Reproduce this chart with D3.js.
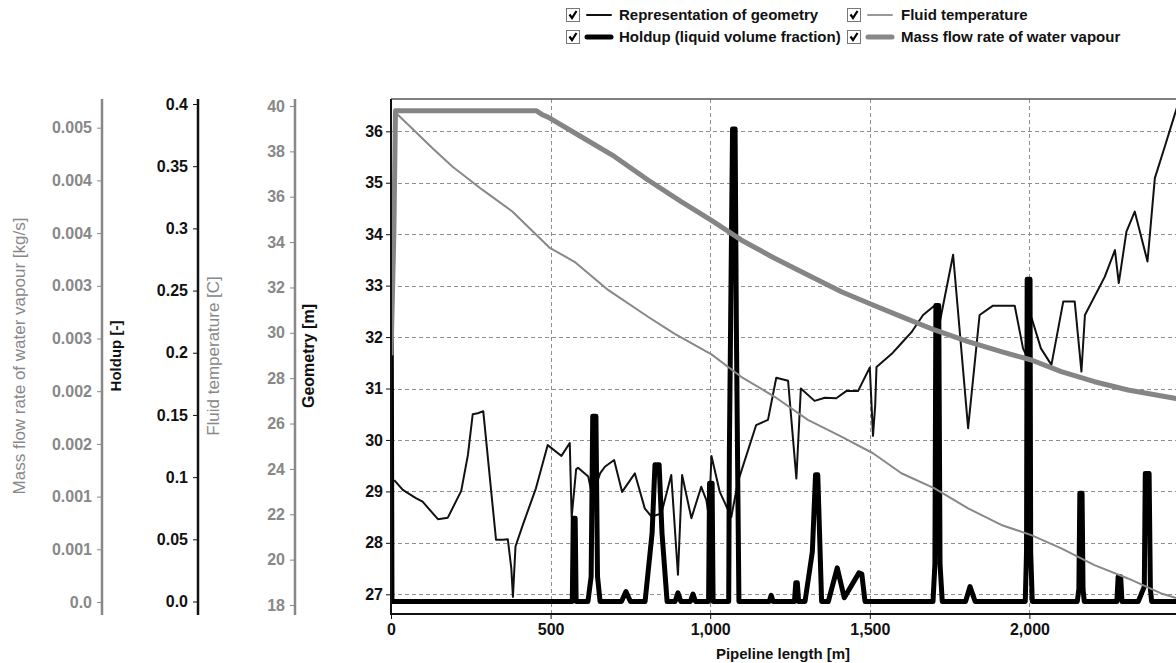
<!DOCTYPE html>
<html>
<head>
<meta charset="utf-8">
<script src="https://cdnjs.cloudflare.com/ajax/libs/d3/7.8.5/d3.min.js"></script>
<style>
  body { margin: 0; background: #fff; }
  svg { display: block; font-family: "Liberation Sans", Arial, sans-serif; font-weight: bold; }
</style>
</head>
<body>
<div id="chart"></div>
<script>

/* data: [pipeline length m, value] */
var geometry = [
  [10,29.22],[37,29.03],[78,28.87],[99,28.80],[147,28.46],[178,28.49],[220,29.01],[241,29.71],
  [256,30.50],[272,30.52],[289,30.56],[329,28.06],[350,28.06],[366,28.07],[377,27.5],[382,26.95],
  [390,27.93],[413,28.35],[454,29.06],[491,29.90],[534,29.69],[560,29.94],[566,28.5],[580,29.43],
  [586,29.46],[618,29.29],[631,28.9],[655,29.35],[670,29.48],[699,29.61],[724,28.99],[764,29.35],
  [795,28.67],[816,28.51],[847,28.57],[878,29.32],[899,27.38],[912,29.32],[941,28.48],[972,29.09],
  [988,28.83],[996,28.5],[1004,29.69],[1030,28.99],[1056,28.64],[1066,28.5],[1087,29.19],[1144,30.29],
  [1181,30.39],[1207,31.21],[1244,31.15],[1270,29.25],[1284,31.0],[1327,30.76],[1359,30.82],[1395,30.81],
  [1426,30.95],[1463,30.95],[1500,31.41],[1510,30.08],[1517,30.68],[1521,31.42],[1568,31.67],[1599,31.88],
  [1630,32.09],[1667,32.43],[1704,32.62],[1718,32.25],[1761,33.60],[1808,30.23],[1844,32.43],[1886,32.61],
  [1954,32.61],[1980,31.78],[1990,31.65],[2007,32.37],[2036,31.78],[2069,31.46],[2106,32.69],[2142,32.69],
  [2163,31.33],[2174,32.43],[2236,33.17],[2268,33.69],[2280,33.05],[2304,34.05],[2330,34.44],[2370,33.47],
  [2393,35.09],[2424,35.70],[2455,36.32],[2480,36.8]
];

var holdup = [
  [0,0.297],[3,0],[568,0],[571,0.067],[577,0.067],[580,0],[617,0],[627,0.02],[632,0.149],[642,0.149],
  [647,0.02],[655,0],[722,0],[736,0.008],[750,0],[796,0],[818,0.055],[827,0.11],[840,0.11],[849,0.055],
  [865,0],[890,0],[899,0.007],[908,0],[938,0],[946,0.006],[954,0],[995,0],[998,0.095],[1006,0.095],
  [1009,0],[1058,0],[1060,0.12],[1065,0.25],[1070,0.38],[1078,0.38],[1082,0.22],[1087,0.08],[1090,0],
  [1185,0],[1191,0.005],[1197,0],[1264,0],[1268,0.015],[1273,0.015],[1277,0],[1297,0],[1320,0.04],
  [1330,0.102],[1337,0.102],[1349,0],[1370,0],[1398,0.027],[1420,0.003],[1466,0.023],[1475,0.022],[1485,0],
  [1698,0],[1704,0.03],[1707,0.238],[1716,0.238],[1720,0.03],[1727,0],[1800,0],[1814,0.012],[1830,0],
  [1987,0],[1991,0.04],[1993,0.259],[2002,0.259],[2004,0.04],[2009,0],[2150,0],[2155,0.01],[2158,0.087],
  [2165,0.087],[2168,0.01],[2172,0],[2274,0],[2278,0.02],[2286,0.02],[2290,0],[2341,0],[2360,0.012],
  [2363,0.103],[2375,0.103],[2379,0.01],[2383,0],[2500,0]
];

var temperature = [
  [15,39.7],[131,38.13],[193,37.32],[287,36.30],[381,35.34],[496,33.76],[575,33.13],[680,31.89],
  [805,30.71],[889,29.95],[1004,29.05],[1097,28.06],[1202,27.18],[1306,26.16],[1411,25.42],[1510,24.69],
  [1599,23.81],[1703,23.14],[1808,22.26],[1912,21.53],[2006,21.08],[2100,20.50],[2204,19.76],[2309,19.17],
  [2413,18.51],[2455,18.33],[2500,18.1]
];

var massFlow = [
  [0,0.00234],[9,0.0035],[14,0.00466],[456,0.00466],[476,0.00462],[492,0.00460],[596,0.004414],
  [701,0.004225],[805,0.004004],[909,0.003798],[1004,0.00362],[1097,0.003435],[1202,0.003261],
  [1306,0.003102],[1411,0.002944],[1510,0.002818],[1599,0.002707],[1703,0.002581],[1808,0.002470],
  [1912,0.002375],[2006,0.002296],[2100,0.002185],[2204,0.002090],[2309,0.002011],[2455,0.001933],[2500,0.00191]
];

/* tick values and labels */
var xTicks = [0, 500, 1000, 1500, 2000];
var geoTicks = [27, 28, 29, 30, 31, 32, 33, 34, 35, 36];
var tempTicks = [18, 20, 22, 24, 26, 28, 30, 32, 34, 36, 38, 40];
var holdupTicks = [0, 0.05, 0.1, 0.15, 0.2, 0.25, 0.3, 0.35, 0.4];
var holdupTickLabels = ["0.0", "0.05", "0.1", "0.15", "0.2", "0.25", "0.3", "0.35", "0.4"];
var massTicks = [0, 0.0005, 0.001, 0.0015, 0.002, 0.0025, 0.003, 0.0035, 0.004, 0.0045];
var massTickLabels = ["0.0", "0.001", "0.001", "0.002", "0.002", "0.003", "0.003", "0.004", "0.004", "0.005"];

var legendNames = ["Representation of geometry", "Fluid temperature",
                   "Holdup (liquid volume fraction)", "Mass flow rate of water vapour"];
var axisTitles = ["Mass flow rate of water vapour [kg/s]", "Holdup [-]", "Fluid temperature [C]", "Geometry [m]"];
var xTitle = "Pipeline length [m]";


window.onload = function () {

  var W = 1176, H = 663;
  var BLACK = "#111", GREY = "#888";

  /* plot frame */
  var left = 391, top = 99, bottom = 614, right = 1189;

  var x = d3.scaleLinear().domain([0, 2500]).range([left, right]);
  var yGeo = d3.scaleLinear().domain([27, 36]).range([594.3, 131.3]);
  var yHold = d3.scaleLinear().domain([0, 0.4]).range([601.5, 104]);
  var yTemp = d3.scaleLinear().domain([18, 40]).range([605, 106]);
  var yMass = d3.scaleLinear().domain([0, 0.0045]).range([602, 127.7]);

  var svg = d3.select("#chart").append("svg")
    .attr("width", W)
    .attr("height", H);

  svg.append("defs").append("clipPath").attr("id", "plotclip")
    .append("rect")
    .attr("x", left).attr("y", top)
    .attr("width", right - left).attr("height", bottom - top);

  /* grid */
  var grid = svg.append("g").attr("stroke", "#8f8f8f").attr("stroke-dasharray", "4,3").attr("stroke-width", 1);
  grid.selectAll(".hg").data(geoTicks).enter().append("line")
    .attr("x1", left).attr("x2", right)
    .attr("y1", function (d) { return Math.round(yGeo(d)) + 0.5; })
    .attr("y2", function (d) { return Math.round(yGeo(d)) + 0.5; });
  grid.selectAll(".vg").data(xTicks.slice(1)).enter().append("line")
    .attr("y1", top).attr("y2", bottom)
    .attr("x1", function (d) { return Math.round(x(d)) + 0.5; })
    .attr("x2", function (d) { return Math.round(x(d)) + 0.5; });

  // top border
  svg.append("line")
    .attr("x1", left).attr("x2", right).attr("y1", top).attr("y2", top)
    .attr("stroke", "#555").attr("stroke-width", 1.5);

  /* the four series */
  var plot = svg.append("g").attr("clip-path", "url(#plotclip)");

  function addLine(data, yScale, color, width) {
    var line = d3.line()
      .x(function (d) { return x(d[0]); })
      .y(function (d) { return yScale(d[1]); });
    plot.append("path")
      .datum(data)
      .attr("d", line)
      .attr("fill", "none")
      .attr("stroke", color)
      .attr("stroke-width", width)
      .attr("stroke-linejoin", "round");
  }

  addLine(geometry, yGeo, BLACK, 2);
  addLine(holdup, yHold, "#000", 5);
  addLine(temperature, yTemp, GREY, 2);
  addLine(massFlow, yMass, "#858585", 5);

  /* axes */
  function styleAxis(g, color) {
    g.attr("font-family", null).attr("font-size", 16);
    g.selectAll(".tick line").attr("stroke", color);
    g.selectAll(".tick text").attr("fill", color);
    g.select(".domain").remove();
  }

  // main y axis (geometry)
  var gy = svg.append("g")
    .attr("transform", "translate(" + left + ",0)")
    .call(d3.axisLeft(yGeo).tickValues(geoTicks).tickSize(5).tickPadding(3));
  styleAxis(gy, BLACK);

  // x axis
  var gx = svg.append("g")
    .attr("transform", "translate(0," + bottom + ")")
    .call(d3.axisBottom(x).tickValues(xTicks).tickFormat(d3.format(",")).tickSize(5).tickPadding(5));
  styleAxis(gx, BLACK);

  svg.append("line").attr("x1", left).attr("x2", left).attr("y1", top).attr("y2", bottom + 1)
    .attr("stroke", BLACK).attr("stroke-width", 2);
  svg.append("line").attr("x1", left).attr("x2", right).attr("y1", bottom).attr("y2", bottom)
    .attr("stroke", BLACK).attr("stroke-width", 2);

  svg.append("text")
    .attr("x", 783).attr("y", 659)
    .attr("text-anchor", "middle")
    .attr("font-size", 15)
    .attr("fill", BLACK)
    .text(xTitle);

  // side axes: mass flow, holdup, temperature
  var sideAxes = [
    { pos: 102, scale: yMass, ticks: massTicks, labels: massTickLabels, color: GREY },
    { pos: 198, scale: yHold, ticks: holdupTicks, labels: holdupTickLabels, color: BLACK },
    { pos: 295, scale: yTemp, ticks: tempTicks, labels: null, color: GREY }
  ];

  sideAxes.forEach(function (a) {
    var ax = d3.axisLeft(a.scale).tickValues(a.ticks).tickSize(5).tickPadding(5);
    if (a.labels) ax.tickFormat(function (d, i) { return a.labels[i]; });
    var g = svg.append("g")
      .attr("transform", "translate(" + a.pos + ",0)")
      .call(ax);
    styleAxis(g, a.color);
    svg.append("line")
      .attr("x1", a.pos).attr("x2", a.pos).attr("y1", top).attr("y2", bottom + 1)
      .attr("stroke", a.color).attr("stroke-width", 2.5);
  });

  // rotated axis titles: grey ones are plain weight, black ones bold
  var titleStyle = [
    { x: 19, color: GREY, weight: "normal", size: 17 },
    { x: 116, color: BLACK, weight: "bold", size: 15 },
    { x: 213, color: GREY, weight: "normal", size: 17 },
    { x: 308, color: BLACK, weight: "bold", size: 16 }
  ];
  axisTitles.forEach(function (t, i) {
    var s = titleStyle[i];
    svg.append("text")
      .attr("transform", "translate(" + s.x + ",356) rotate(-90)")
      .attr("text-anchor", "middle")
      .attr("dy", "0.35em")
      .attr("font-size", s.size)
      .attr("font-weight", s.weight)
      .attr("fill", s.color)
      .text(t);
  });

  /* legend with check boxes */
  var legendStyle = [
    { col: 0, row: 0, color: BLACK, width: 2 },
    { col: 1, row: 0, color: "#999", width: 2 },
    { col: 0, row: 1, color: "#000", width: 5 },
    { col: 1, row: 1, color: GREY, width: 5 }
  ];
  var colX = [566, 847], rowY = [15, 37];

  var legend = svg.append("g");
  legendNames.forEach(function (name, i) {
    var s = legendStyle[i];
    var lx = colX[s.col], ly = rowY[s.row];
    var item = legend.append("g").attr("transform", "translate(" + lx + "," + ly + ")");
    item.append("rect")
      .attr("x", 0.5).attr("y", -6.5).attr("width", 13).attr("height", 13)
      .attr("fill", "#fff").attr("stroke", "#777");
    item.append("path")
      .attr("d", "M3.5,-0.5 L6,3 L10.5,-4")
      .attr("fill", "none").attr("stroke", "#000").attr("stroke-width", 2.2);
    item.append("line")
      .attr("x1", 21).attr("x2", 45).attr("y1", 0).attr("y2", 0)
      .attr("stroke", s.color).attr("stroke-width", s.width)
      .attr("stroke-linecap", "round");
    item.append("text")
      .attr("x", s.col === 0 ? 53 : 54).attr("y", 0).attr("dy", "0.35em")
      .attr("font-size", 15)
      .attr("fill", BLACK)
      .text(name);
  });

};
</script>
</body>
</html>
